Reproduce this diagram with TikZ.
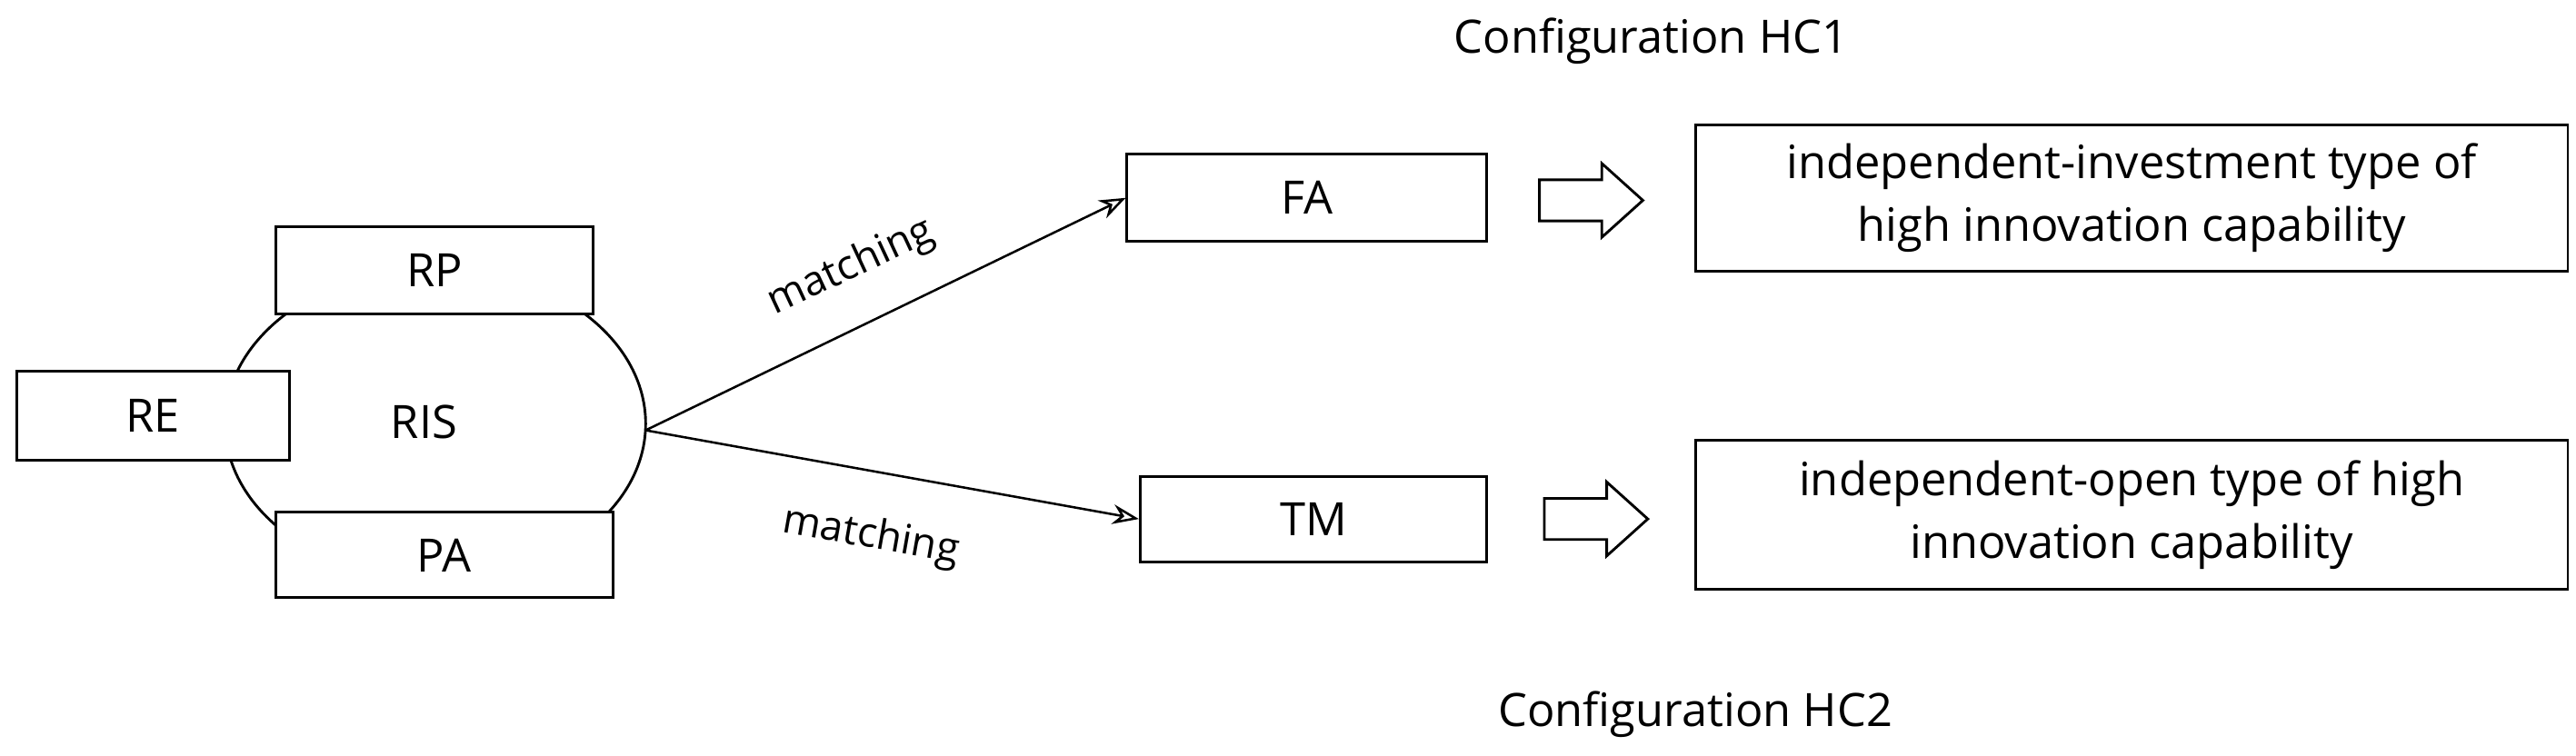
\documentclass[tikz,border=0pt]{standalone}
\usepackage{fontspec}
\setmainfont{Open Sans}
\usetikzlibrary{arrows.meta}
\begin{document}
\begin{tikzpicture}[x=0.5pt,y=-0.5pt,
  box/.style={draw,fill=white,line width=0.8pt,inner sep=0pt,font=\fontsize{14}{19}\selectfont,align=center},
  lbl/.style={font=\fontsize{12.5}{15}\selectfont},
  conn/.style={-{Stealth[open,length=8pt,width=6pt]},line width=0.7pt},
  blk/.style={line width=0.8pt,line join=miter}]
\useasboundingbox (0,0) rectangle (1568,460);
\draw[line width=0.8pt] (265,258) ellipse [x radius=128, y radius=95];
\node[box,minimum width=96.5pt,minimum height=26.5pt] (rp) at (264.5,164.5) {RP};
\node[box,minimum width=83pt,minimum height=27pt] (re) at (93,253) {RE};
\node[box,minimum width=102.5pt,minimum height=26pt] (pa) at (270.5,338) {PA};
\node[font=\fontsize{14}{19}\selectfont] (ris) at (258,257) {RIS};
\coordinate (src) at (393,262);
\node[box,minimum width=109.5pt,minimum height=26.5pt] (fa) at (795.5,120.5) {FA};
\node[box,minimum width=105.5pt,minimum height=26pt] (tm) at (799.5,316) {TM};
\draw[conn] (src) -- (fa.west);
\draw[conn] (src) -- (tm.west);
\node[lbl,rotate=25] (m1) at (518,163) {matching};
\node[lbl,rotate=-10] (m2) at (530,327) {matching};
\coordinate (a1) at (937,122);
\coordinate (a2) at (940,316);
\foreach \c in {a1,a2}
  \draw[blk] (\c) ++(0,-12.5) -- ++(38,0) -- ++(0,-10) -- ++(25,22.5) -- ++(-25,22.5) -- ++(0,-10) -- ++(-38,0) -- cycle;
\node[box,minimum width=265.5pt,minimum height=44.5pt] (h1) at (1297.5,120.5) {independent-investment type of\\high innovation capability};
\node[box,minimum width=265.5pt,minimum height=45.5pt] (h2) at (1297.5,313.5) {independent-open type of high\\innovation capability};
\node[font=\fontsize{14}{19}\selectfont] (c1) at (1005,25) {Configuration HC1};
\node[font=\fontsize{14}{19}\selectfont] (c2) at (1032,435) {Configuration HC2};
\end{tikzpicture}
\end{document}
